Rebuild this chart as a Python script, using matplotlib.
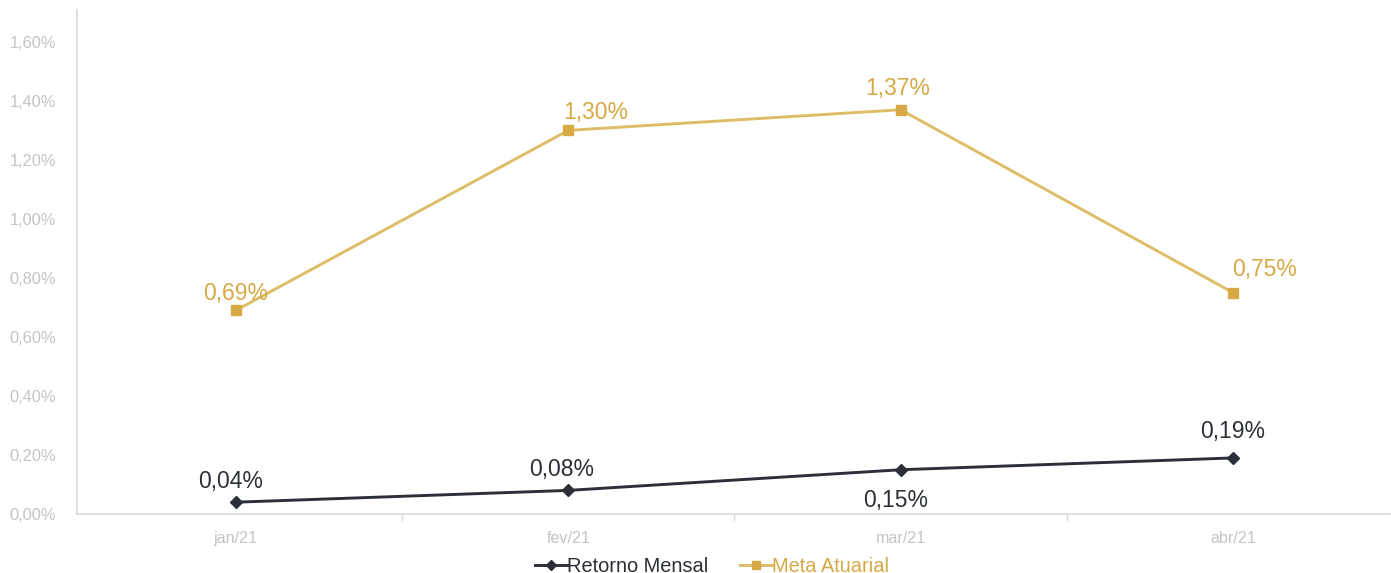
import matplotlib
matplotlib.use("Agg")
import matplotlib.pyplot as plt
from matplotlib.ticker import FuncFormatter, FixedLocator

plt.rcParams['font.family'] = ['Liberation Sans', 'DejaVu Sans']

meses = ["jan/21", "fev/21", "mar/21", "abr/21"]
retorno_mensal = [0.04, 0.08, 0.15, 0.19]
meta_atuarial = [0.69, 1.30, 1.37, 0.75]
y_ticks = [0.0, 0.2, 0.4, 0.6, 0.8, 1.0, 1.2, 1.4, 1.6]

cor_escura = "#2b2f37"
cor_ouro = "#ddbd68"
cor_ouro_marca = "#d6a945"
cor_eixo = "#d9d9d9"
cor_rotulo = "#c4c4c4"

fig = plt.figure(figsize=(13.91, 5.73), dpi=100)
ax = fig.add_axes([77 / 1391, 1 - 514 / 573, (1390 - 77) / 1391, (514 - 10) / 573])

x = list(range(len(meses)))
ax.plot(x, retorno_mensal, color=cor_escura, lw=2.1, marker="D", ms=6.5,
        mfc=cor_escura, mec=cor_escura, label="Retorno Mensal", zorder=3)
ax.plot(x, meta_atuarial, color=cor_ouro, lw=2.1, marker="s", ms=6.5,
        mfc=cor_ouro_marca, mec=cor_ouro_marca, label="Meta Atuarial", zorder=3)

def fmt(v):
    return f"{v:.2f}".replace(".", ",") + "%"

# offsets em pontos (dx, dy) para cada rótulo
off_meta = [(0, 12.5), (20, 13), (-2, 15), (23, 17)]
off_ret = [(-4, 15), (-5, 15), (-4, -22), (0, 19)]
for i, v in enumerate(meta_atuarial):
    ax.annotate(fmt(v), (i, v), xytext=off_meta[i], textcoords="offset points",
                ha="center", va="center", fontsize=16.5, color=cor_ouro_marca)
for i, v in enumerate(retorno_mensal):
    ax.annotate(fmt(v), (i, v), xytext=off_ret[i], textcoords="offset points",
                ha="center", va="center", fontsize=16.5, color=cor_escura)

ax.set_xlim(-0.478, 3.472)
ax.set_ylim(0, 1.708)
ax.set_yticks(y_ticks)
ax.yaxis.set_major_formatter(FuncFormatter(lambda v, p: fmt(v)))
ax.set_xticks(x)
ax.set_xticklabels(meses)
ax.xaxis.set_minor_locator(FixedLocator([0.5, 1.5, 2.5]))

for s in ["top", "right"]:
    ax.spines[s].set_visible(False)
ax.spines["left"].set_color(cor_eixo)
ax.spines["bottom"].set_color(cor_eixo)
ax.spines["left"].set_linewidth(1.2)
ax.spines["bottom"].set_linewidth(1.2)

ax.tick_params(axis="y", length=0, labelsize=11.8, labelcolor=cor_rotulo, pad=15)
ax.tick_params(axis="x", which="major", length=0, labelsize=11.6, labelcolor=cor_rotulo, pad=12)
ax.tick_params(axis="x", which="minor", length=5, color=cor_eixo, width=1)

leg = fig.legend(loc="center", bbox_to_anchor=(712 / 1391, 1 - 566 / 573), ncol=2,
                 frameon=False, fontsize=14.4, handlelength=1.6, handletextpad=0.0,
                 columnspacing=1.6, markerscale=0.85)
for txt, c in zip(leg.get_texts(), [cor_escura, cor_ouro_marca]):
    txt.set_color(c)

fig.savefig("out.png", dpi=100)
